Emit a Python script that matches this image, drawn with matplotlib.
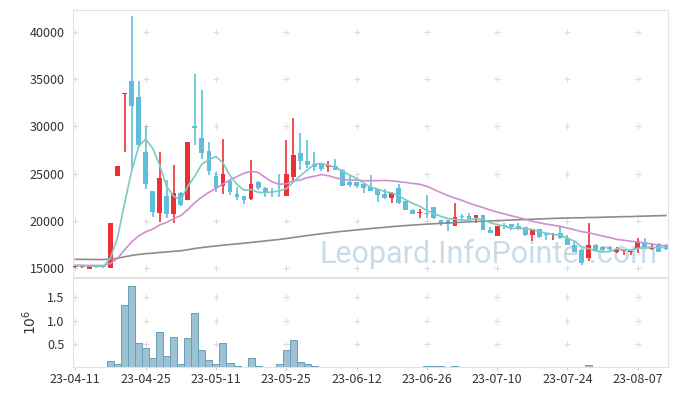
import matplotlib
matplotlib.use('Agg')
import matplotlib.pyplot as plt
import numpy as np

plt.rcParams['font.family'] = ['Noto Sans CJK KR', 'DejaVu Sans']

tick_labels = ['23-04-11', '23-04-25', '23-05-11', '23-05-25', '23-06-12',
               '23-06-26', '23-07-10', '23-07-24', '23-08-07']
tick_pos = [0, 10, 20, 30, 40, 50, 60, 70, 80]

opens = [15100, 15100, 14950, 15250, 15250, 15050, 24800, 33400, 34800, 33100,
         27250, 23150, 20850, 22600, 20750, 22980, 22200, 30000, 28750, 27400,
         24750, 23700, 24250, 22850, 22600, 22300, 24100, 23500, 22850, 22850,
         22650, 24600, 27200, 26350, 26000, 26000, 25650, 25800, 25400, 24100,
         24100, 23950, 23550, 23350, 22850, 22450, 23500, 22100, 21150, 20850,
         20850, 21450, 20050, 20050, 19500, 20450, 20500, 20250, 20600, 19050,
         18400, 19550, 19650, 19450, 19300, 18450, 19100, 18550, 18350, 18750,
         18150, 17450, 16900, 16050, 17450, 17250, 17250, 16650, 16850, 16650,
         17100, 17800, 17050, 17550, 17450]
highs = [15200, 15200, 15250, 15250, 15250, 19750, 25800, 33500, 41700, 34800,
         30000, 23200, 27300, 24300, 25900, 23100, 28350, 35550, 33900, 28400,
         25200, 28650, 24300, 23600, 22650, 26450, 24200, 23550, 23450, 25000,
         28550, 30850, 29250, 28600, 27300, 26050, 26350, 26600, 25500, 24750,
         24150, 24000, 24850, 23400, 23350, 23050, 23950, 22150, 21200, 21200,
         22750, 21450, 20100, 20100, 21850, 20700, 20800, 20650, 20650, 19300,
         19500, 19750, 19700, 19750, 19350, 19150, 19150, 18700, 18700, 19400,
         18500, 17800, 17000, 19750, 17500, 17300, 17300, 17250, 16950, 16850,
         18200, 18150, 17600, 17600, 17500]
lows = [15050, 15050, 14950, 15050, 15050, 15000, 24700, 27300, 25400, 27900,
        23400, 20400, 19900, 20350, 19800, 21600, 22200, 28000, 26500, 24900,
        23100, 22850, 22700, 22250, 21800, 22200, 23300, 22500, 22500, 22500,
        22600, 24150, 25400, 25550, 25300, 25300, 25200, 25350, 23650, 23550,
        23500, 22900, 23150, 22000, 22300, 21900, 21800, 21100, 20700, 20250,
        20350, 20200, 19500, 18900, 19450, 20000, 20100, 19800, 19000, 18700,
        18350, 19150, 19050, 19050, 18400, 17850, 18200, 17950, 17950, 18100,
        17400, 16700, 15300, 15750, 16650, 16650, 16850, 16600, 16350, 16400,
        16600, 17100, 16950, 16700, 16950]
closes = [15150, 15150, 15250, 15100, 15100, 19750, 25800, 33500, 32150, 28000,
          23870, 20950, 24500, 20750, 23000, 21700, 28350, 29850, 27150, 25300,
          23450, 24950, 23100, 22500, 22200, 23850, 23450, 22950, 22800, 22800,
          24950, 26950, 26350, 25900, 25750, 25450, 25900, 25400, 23700, 23800,
          23700, 23450, 23200, 22700, 22450, 23000, 21850, 21150, 20750, 20950,
          20750, 20250, 19650, 19650, 20450, 20400, 20150, 20600, 19050, 18750,
          19450, 19400, 19300, 19150, 18450, 19100, 18300, 18500, 18400, 18150,
          17450, 16750, 15500, 17450, 16900, 16900, 17000, 16900, 16900, 16800,
          17850, 17250, 17100, 16750, 17000]
# volume in millions of shares
volume = [0.002, 0.002, 0.002, 0.002, 0.002, 0.12, 0.065, 1.33, 1.745, 0.51,
          0.40, 0.20, 0.745, 0.245, 0.64, 0.07, 0.615, 1.16, 0.375, 0.16,
          0.07, 0.51, 0.095, 0.03, 0.008, 0.20, 0.03, 0.01, 0.01, 0.07,
          0.375, 0.585, 0.115, 0.065, 0.03, 0.01, 0.006, 0.006, 0.006, 0.006,
          0.006, 0.006, 0.006, 0.006, 0.006, 0.006, 0.006, 0.006, 0.006, 0.006,
          0.025, 0.012, 0.012, 0.004, 0.025, 0.002, 0.002, 0.002, 0.002, 0.002,
          0.002, 0.002, 0.002, 0.002, 0.01, 0.002, 0.002, 0.002, 0.002, 0.002,
          0.008, 0.002, 0.01, 0.045, 0.002, 0.002, 0.002, 0.002, 0.002, 0.002,
          0.01, 0.002, 0.002, 0.002, 0.002]
ma5 = [15270, 15240, 15230, 15190, 15150, 16070, 18200, 21850, 25260, 27840,
       28660, 27690, 25890, 23610, 22610, 22180, 23660, 24730, 26010, 26470,
       26820, 26140, 24790, 23860, 23240, 23320, 23020, 22990, 23050, 23170,
       23390, 24090, 24770, 25390, 25980, 26080, 25870, 25680, 25240, 24850,
       24500, 24010, 23570, 23370, 23100, 22960, 22640, 22230, 21840, 21540,
       21090, 20770, 20470, 20250, 20150, 20080, 20060, 20250, 20130, 19790,
       19600, 19450, 19190, 19210, 19150, 19080, 18860, 18700, 18550, 18490,
       18160, 17850, 17250, 17060, 16810, 16700, 16750, 17030, 16920, 16900,
       17090, 17140, 17180, 17150, 17190]
ma20 = [15290, 15285, 15280, 15270, 15260, 15490, 16010, 16920, 17760, 18400,
        18830, 19110, 19570, 19840, 20230, 20550, 21200, 21930, 22520, 23020,
        23430, 23920, 24320, 24690, 25040, 25250, 25130, 24600, 24130, 23870,
        23930, 24230, 24320, 24580, 24720, 24900, 24780, 24560, 24390, 24310,
        24320, 24250, 24250, 24260, 24280, 24230, 24150, 24060, 23960, 23870,
        23660, 23320, 22990, 22680, 22410, 22160, 21870, 21630, 21400, 21150,
        20930, 20730, 20540, 20360, 20160, 19960, 19790, 19650, 19540, 19400,
        19230, 19060, 18850, 18740, 18560, 18390, 18230, 18040, 17940, 17840,
        17760, 17650, 17540, 17420, 17350]
ma120 = [15920, 15920, 15910, 15900, 15900, 15940, 16030, 16190, 16330, 16440,
         16520, 16570, 16650, 16700, 16770, 16830, 16940, 17070, 17170, 17260,
         17330, 17420, 17490, 17560, 17630, 17710, 17790, 17870, 17950, 18030,
         18120, 18230, 18340, 18440, 18540, 18630, 18720, 18810, 18890, 18960,
         19040, 19110, 19180, 19250, 19310, 19380, 19440, 19500, 19550, 19600,
         19650, 19690, 19730, 19770, 19810, 19850, 19890, 19930, 19960, 19990,
         20020, 20050, 20080, 20110, 20140, 20170, 20200, 20230, 20260, 20280,
         20300, 20320, 20320, 20350, 20360, 20380, 20400, 20420, 20440, 20450,
         20480, 20500, 20520, 20540, 20560]

UP = '#ee3035'
DOWN = '#5fbfdb'
GRIDC = '#dcdcdc'
SPINEC = '#e3e3e3'

fig = plt.figure(figsize=(6.77, 3.96), dpi=100)
ax = fig.add_axes([73/677, 1 - 277/396, 595/677, 267/396])
axv = fig.add_axes([73/677, 1 - 367/396, 595/677, 89/396], sharex=ax)

n = len(closes)
x = np.arange(n)
o = np.array(opens); c = np.array(closes)
h = np.array(highs); l = np.array(lows)
up = c >= o
cols = [UP if u else DOWN for u in up]

ax.vlines(x, l, h, colors=cols, linewidth=1.2, zorder=3)
body_h = np.maximum(np.abs(c - o), 90)
ax.bar(x, body_h, bottom=np.minimum(o, c), width=0.68, color=cols,
       linewidth=0, zorder=4)

ax.plot(x, ma120, color='#8c8c8c', lw=1.2, zorder=5)
ax.plot(x, ma20, color='#cf8fcf', lw=1.2, zorder=5)
ax.plot(x, ma5, color='#7fc9c0', lw=1.2, zorder=5)

ax.set_xlim(-0.33, 84.3)
ax.set_ylim(14050, 42330)
yt = [15000, 20000, 25000, 30000, 35000, 40000]
ax.set_yticks(yt)
ax.set_yticklabels([str(v) for v in yt])
ax.tick_params(axis='y', length=0, pad=6, labelsize=9, labelcolor='#333333')
ax.tick_params(axis='x', length=0, labelbottom=False)

gx, gy = np.meshgrid(tick_pos, yt)
ax.scatter(gx.ravel(), gy.ravel(), marker='+', s=14, color=GRIDC, linewidths=0.8, zorder=1)

ax.text(0.415, 0.03, 'Leopard.InfoPointer.com', transform=ax.transAxes,
        fontsize=22, color='#bcd3e2', alpha=0.8, family='Roboto', zorder=2,
        ha='left', va='bottom')

for sp in ax.spines.values():
    sp.set_color(SPINEC)

axv.bar(x, volume, width=1.0, color='#9cc2d4', edgecolor='#6a9fb9', linewidth=0.7, zorder=3)
axv.set_ylim(0, 1.92)
vt = [0.5, 1.0, 1.5]
axv.set_yticks(vt)
axv.set_yticklabels(['0.5', '1.0', '1.5'])
axv.tick_params(axis='y', length=0, pad=6, labelsize=9, labelcolor='#333333')
axv.set_xticks(tick_pos)
axv.set_xticklabels(tick_labels)
axv.tick_params(axis='x', length=2, color='#cccccc', pad=2, labelsize=9, labelcolor='#333333')
axv.set_ylabel('$10^6$', fontsize=10, color='#333333', labelpad=6)
gx2, gy2 = np.meshgrid(tick_pos, vt)
axv.scatter(gx2.ravel(), gy2.ravel(), marker='+', s=14, color=GRIDC, linewidths=0.8, zorder=1)
for sp in axv.spines.values():
    sp.set_color(SPINEC)

fig.savefig('out.png', dpi=100)
